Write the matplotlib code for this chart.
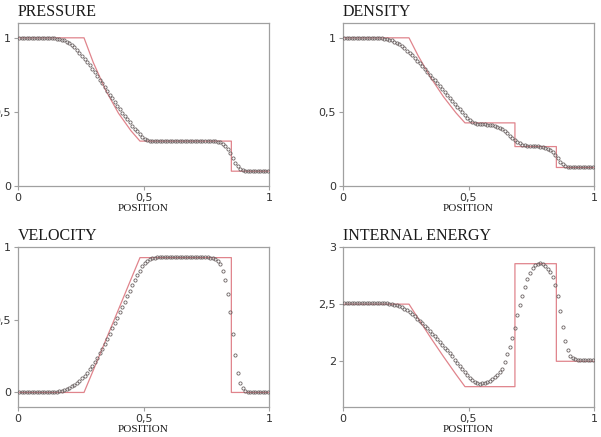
import numpy as np
import matplotlib
matplotlib.use("Agg")
import matplotlib.pyplot as plt

# sample positions of the numerical solution (cell centres)
x_num = np.linspace(0.005, 0.995, 100)

pressure_num = ([1.0] * 12 +
    [0.999, 0.998, 0.997, 0.995, 0.992, 0.988, 0.982, 0.975, 0.965, 0.952,
     0.937, 0.92, 0.90, 0.88, 0.86, 0.838, 0.815, 0.79, 0.766, 0.742,
     0.717, 0.692, 0.667, 0.642, 0.617, 0.592, 0.567, 0.543, 0.519, 0.496,
     0.473, 0.451, 0.429, 0.408, 0.388, 0.368, 0.349, 0.333, 0.32, 0.311,
     0.306, 0.304] +
    [0.303] * 24 +
    [0.301, 0.298, 0.294, 0.286, 0.272, 0.252, 0.225, 0.19, 0.158, 0.133,
     0.116, 0.107, 0.103, 0.101] +
    [0.1] * 8)

density_num = ([1.0] * 12 +
    [0.999, 0.999, 0.998, 0.996, 0.994, 0.991, 0.987, 0.982, 0.975, 0.966,
     0.955, 0.942, 0.928, 0.913, 0.898, 0.881, 0.864, 0.845, 0.827, 0.808,
     0.789, 0.770, 0.751, 0.731, 0.712, 0.692, 0.672, 0.653, 0.633, 0.614,
     0.594, 0.575, 0.555, 0.536, 0.517, 0.498, 0.479, 0.462, 0.447, 0.435,
     0.426, 0.421, 0.419, 0.418, 0.417, 0.415, 0.413, 0.41, 0.406, 0.40,
     0.392, 0.382, 0.369, 0.355, 0.34, 0.325, 0.311, 0.298, 0.288, 0.28,
     0.275, 0.272, 0.27, 0.269, 0.268, 0.267, 0.265, 0.263, 0.259, 0.252,
     0.242, 0.228, 0.21, 0.187, 0.164, 0.146, 0.135, 0.13, 0.127, 0.126] +
    [0.125] * 8)

velocity_num = ([0.0] * 11 +
    [0.001, 0.002, 0.003, 0.004, 0.006, 0.009, 0.013, 0.018, 0.024, 0.032,
     0.041, 0.052, 0.065, 0.08, 0.097, 0.116, 0.137, 0.16, 0.185, 0.212,
     0.24, 0.27, 0.302, 0.335, 0.369, 0.404, 0.44, 0.477, 0.514, 0.551,
     0.588, 0.625, 0.662, 0.699, 0.736, 0.772, 0.806, 0.838, 0.866, 0.889,
     0.905, 0.916, 0.922, 0.926, 0.928] +
    [0.93] * 19 +
    [0.929, 0.927, 0.923, 0.916, 0.905, 0.88, 0.835, 0.77, 0.68, 0.555,
     0.405, 0.255, 0.137, 0.066, 0.03, 0.013, 0.006, 0.003, 0.001] +
    [0.0] * 6)

energy_num = ([2.51] * 16 +
    [2.509, 2.507, 2.504, 2.50, 2.495, 2.489, 2.481, 2.471, 2.459, 2.445,
     2.429, 2.412, 2.393, 2.374, 2.355, 2.334, 2.312, 2.289, 2.265, 2.242,
     2.218, 2.194, 2.17, 2.145, 2.12, 2.095, 2.069, 2.042, 2.015, 1.988,
     1.96, 1.932, 1.904, 1.877, 1.853, 1.833, 1.818, 1.809, 1.805, 1.806,
     1.811, 1.82, 1.829, 1.842, 1.86, 1.882, 1.905, 1.933, 1.993, 2.06,
     2.125, 2.205, 2.295, 2.405, 2.49, 2.575, 2.65, 2.72, 2.772, 2.815,
     2.84, 2.853, 2.862, 2.853, 2.835, 2.81, 2.785, 2.735, 2.67, 2.57,
     2.44, 2.3, 2.18, 2.10, 2.05, 2.027, 2.018, 2.014] +
    [2.012] * 6)

# exact (analytic) solution, read as a polyline
x_exact = [0.0, 0.263, 0.30, 0.35, 0.40, 0.45, 0.486, 0.685, 0.685, 0.850, 0.850, 1.0]
pressure_exact = [1.0, 1.0, 0.833, 0.644, 0.492, 0.373, 0.303, 0.303, 0.303, 0.303, 0.1, 0.1]
density_exact = [1.0, 1.0, 0.877, 0.730, 0.603, 0.494, 0.426, 0.426, 0.266, 0.266, 0.125, 0.125]
velocity_exact = [0.0, 0.0, 0.153, 0.361, 0.569, 0.778, 0.927, 0.927, 0.927, 0.927, 0.0, 0.0]
energy_exact = [2.5, 2.5, 2.373, 2.204, 2.042, 1.886, 1.778, 1.778, 2.854, 2.854, 2.0, 2.0]

titles = ["PRESSURE", "DENSITY", "VELOCITY", "INTERNAL ENERGY"]
ytick_vals = [[0, 0.5, 1], [0, 0.5, 1], [0, 0.5, 1], [2, 2.5, 3]]
ytick_labels = [["0", "0,5", "1"], ["0", "0,5", "1"], ["0", "0,5", "1"], ["2", "2,5", "3"]]
ylims = [(0, 1.1), (0, 1.1), (-0.1, 1.0), (1.6, 3.0)]

RED = "#e0848c"
DOT = "#6b6262"
SPINE = "#a0a0a0"
SERIF = ["Liberation Serif", "DejaVu Serif"]

fig = plt.figure(figsize=(6.01, 4.37), dpi=100)
W, H = 601.0, 437.0
boxes = [(18, 23, 251, 163), (343, 23, 251, 163),
         (18, 247, 251, 160), (343, 247, 251, 160)]

num = [pressure_num, density_num, velocity_num, energy_num]
exact = [pressure_exact, density_exact, velocity_exact, energy_exact]

for k in range(4):
    bx, by, bw, bh = boxes[k]
    ax = fig.add_axes([bx / W, 1 - (by + bh) / H, bw / W, bh / H])
    ax.plot(x_exact, exact[k], color=RED, lw=0.9, zorder=2)
    ax.plot(x_num, num[k], ls="none", marker="o", ms=2.3, mfc="none",
            mec=DOT, mew=0.6, zorder=3)
    ax.set_xlim(0, 1)
    ax.set_ylim(*ylims[k])
    ax.set_xticks([0, 0.5, 1])
    ax.set_xticklabels(["0", "0,5", "1"])
    ax.set_yticks(ytick_vals[k])
    ax.set_yticklabels(ytick_labels[k])
    ax.tick_params(length=3, width=0.8, color=SPINE, labelsize=8,
                   labelcolor="#333333", pad=2)
    for s in ax.spines.values():
        s.set_color(SPINE)
        s.set_linewidth(0.9)
    ax.set_title(titles[k], loc="left", family=SERIF, fontsize=11.5,
                 color="#1a1a1a", pad=5)
    ax.set_xlabel("POSITION", family=SERIF, fontsize=8,
                  color="#1a1a1a", labelpad=1)

fig.savefig("out.png", dpi=100)
